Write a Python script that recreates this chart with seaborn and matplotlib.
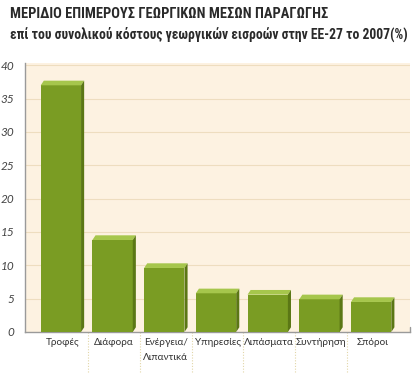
import matplotlib
matplotlib.use("Agg")
import matplotlib.pyplot as plt
import matplotlib.transforms as mtransforms
from matplotlib.patches import Polygon
import seaborn as sns
import pandas as pd

# data
categories = ["Τροφές", "Διάφορα", "Ενέργεια/\nΛιπαντικά", "Υπηρεσίες",
              "Λιπάσματα", "Συντήρηση", "Σπόροι"]
shares = [37.0, 13.8, 9.6, 5.8, 5.6, 4.9, 4.5]
yticks = [0, 5, 10, 15, 20, 25, 30, 35, 40]

title_main = "ΜΕΡΙΔΙΟ ΕΠΙΜΕΡΟΥΣ ΓΕΩΡΓΙΚΩΝ ΜΕΣΩΝ ΠΑΡΑΓΩΓΗΣ"
title_sub = "επί του συνολικού κόστους γεωργικών εισροών στην ΕΕ-27 το 2007(%)"

df = pd.DataFrame({"cat": categories, "share": shares})

sns.set_style("white")
plt.rcParams["font.family"] = ["Lato", "DejaVu Sans"]

fig = plt.figure(figsize=(4.2, 3.73), dpi=100)
ax = fig.add_axes([0.06, 0.11, 0.916, 0.722])
ax.set_facecolor("#FDF2E1")

front, top, side = "#7A9C23", "#A6C64C", "#5B7715"
sns.barplot(data=df, x="cat", y="share", color=front, width=0.84,
            saturation=1, ax=ax, zorder=3)

# fake 3d: top face and right side from each bar's geometry
dx, dy = 0.06, 0.7
for p in ax.patches:
    x0, w, h = p.get_x(), p.get_width() - dx, p.get_height()
    p.set_width(w)
    p.set_edgecolor("none")
    ax.add_patch(Polygon([(x0, h), (x0 + dx, h + dy), (x0 + w + dx, h + dy), (x0 + w, h)],
                         closed=True, facecolor=top, edgecolor="none", zorder=4))
    ax.add_patch(Polygon([(x0 + w, 0), (x0 + w + dx, dy), (x0 + w + dx, h + dy), (x0 + w, h)],
                         closed=True, facecolor=side, edgecolor="none", zorder=4))

ax.set_ylim(0, 40.4)
ax.set_xlim(-0.72, len(categories) - 0.28)
ax.set_yticks(yticks)
ax.yaxis.grid(True, color="#EEDDBF", linewidth=0.8, zorder=0)
ax.set_axisbelow(True)
ax.set_xlabel("")
ax.set_ylabel("")

for s in ["top", "right"]:
    ax.spines[s].set_visible(False)
for s in ["left", "bottom"]:
    ax.spines[s].set_color("#9A9A9A")
    ax.spines[s].set_linewidth(1.0)

ax.tick_params(axis="y", length=0, pad=8, labelsize=8.5, labelcolor="#444444")
for lab in ax.get_yticklabels():
    lab.set_style("italic")
ax.tick_params(axis="x", length=0, pad=4, labelsize=7.2, labelcolor="#333333")
for lab in ax.get_xticklabels():
    lab.set_linespacing(1.9)

# dotted separators below the axis between categories
trans = mtransforms.blended_transform_factory(ax.transData, ax.transAxes)
for i in range(len(categories) - 1):
    ax.plot([i + 0.5, i + 0.5], [0, -0.16], transform=trans, clip_on=False,
            color="#E2D6A8", linestyle=(0, (1, 1.5)), linewidth=0.8)
ax.plot([len(categories) - 0.28] * 2, [0, 0.02], transform=trans, clip_on=False,
        color="#9A9A9A", linewidth=1.0)

title_font = ["Roboto Condensed", "DejaVu Sans"]
fig.text(0.024, 0.962, title_main, fontsize=10.4, fontweight="bold",
         color="#2A2A2A", family=title_font, va="center")
fig.text(0.024, 0.909, title_sub, fontsize=9.8, fontweight="bold",
         color="#2A2A2A", family=title_font, va="center")

fig.savefig("out.png", dpi=100, facecolor="white")
